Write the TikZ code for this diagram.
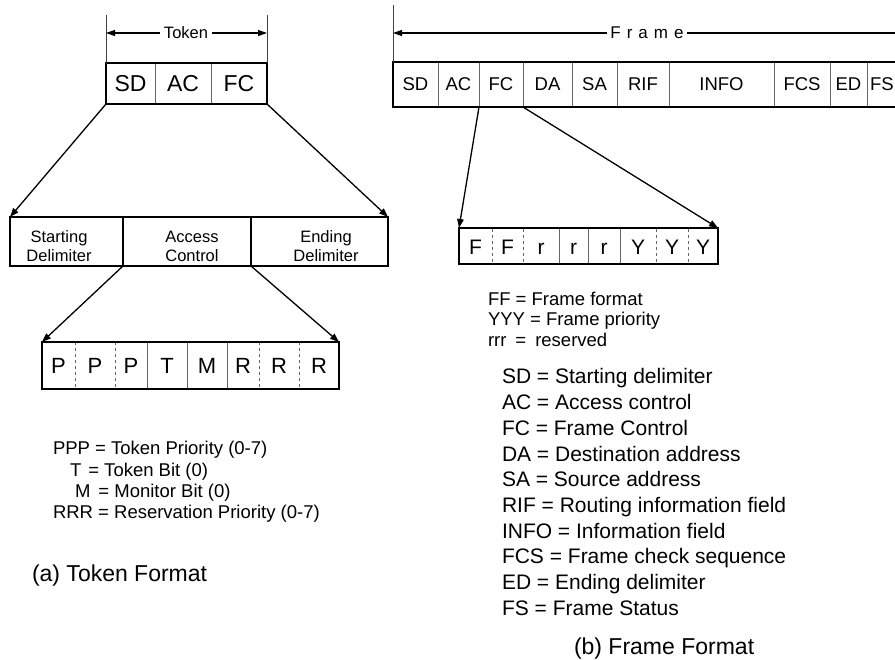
\documentclass[tikz,border=0pt]{standalone}
\usepackage{fontspec}
\setmainfont{Liberation Sans}
\usetikzlibrary{arrows.meta}
\begin{document}
\begin{tikzpicture}[x=1pt,y=-1pt,
  thickbox/.style={draw, line width=2.6pt, inner sep=0pt, outer sep=0pt, anchor=north west},
  cellbox/.style={inner sep=0pt, outer sep=0pt, anchor=north west},
  thindiv/.style={line width=0.9pt, black!60},
  dashdiv/.style={line width=0.9pt, black!60, dash pattern=on 3.5pt off 2.5pt},
  thickdiv/.style={line width=2pt, black},
  arr/.style={-{Triangle[length=9pt,width=6.5pt]}, line width=1.3pt},
  dimline/.style={line width=0.9pt, black!75},
  dimarr/.style={-{Triangle[length=9pt,width=6pt]}, line width=1.1pt},
  fs/.style={font=\fontsize{#1}{#1}\selectfont},
  legend/.style={anchor=base west, inner sep=0pt, outer sep=0pt},
  twoline/.style={font=\fontsize{16.5}{19}\selectfont, align=center, inner sep=0pt},
]
\useasboundingbox (0,0) rectangle (895,660);
\clip (0,0) rectangle (895,660);

% ---------------- Token ----------------
\node[cellbox, minimum width=49pt, minimum height=41pt, fs=23] (tSD) at (106,63) {SD};
\node[cellbox, minimum width=56pt, minimum height=41pt, fs=23] (tAC) at (155,63) {AC};
\node[cellbox, minimum width=56pt, minimum height=41pt, fs=23] (tFC) at (211,63) {FC};
\draw[thindiv] (tSD.north east) -- (tSD.south east);
\draw[thindiv] (tAC.north east) -- (tAC.south east);
\node[thickbox, minimum width=161pt, minimum height=41pt] (token) at (106,63) {};

\coordinate (tokTL) at (106,15);
\coordinate (tokTR) at (267,15);
\coordinate (tokAL) at (106,33);
\coordinate (tokAR) at (267,33);
\draw[dimline] (tokTL) -- (token.north west);
\draw[dimline] (tokTR) -- (token.north east);
\node[fs=16.5, inner xsep=4pt] (toklabel) at (186,33) {Token};
\draw[dimarr] (toklabel.west) -- (tokAL);
\draw[dimarr] (toklabel.east) -- (tokAR);

% ---------------- Starting / Access / Ending ----------------
\node[cellbox, minimum width=113pt, minimum height=49pt] (sStart) at (10,217) {};
\node[cellbox, minimum width=128pt, minimum height=49pt] (sAcc) at (123,217) {};
\node[cellbox, minimum width=137pt, minimum height=49pt] (sEnd) at (251,217) {};
\draw[thickdiv] (sStart.north east) -- (sStart.south east);
\draw[thickdiv] (sAcc.north east) -- (sAcc.south east);
\node[thickbox, minimum width=378pt, minimum height=49pt] (sad) at (10,217) {};
\node[twoline] (lStart) at (59,246) {Starting\\Delimiter};
\node[twoline] (lAcc) at (192,246) {Access\\Control};
\node[twoline] (lEnd) at (326,246) {Ending\\Delimiter};

% ---------------- PPPTMRRR ----------------
\foreach \a/\b/\t in {42/75/P, 75/115/P, 115/147/P, 147/187/T, 187/227/M, 227/259/R, 259/299/R, 299/339/R}{
  \pgfmathsetmacro\w{\b-\a}
}
\foreach \a/\b/\t [count=\i] in {42/75/P, 75/115/P, 115/147/P, 147/187/T, 187/227/M, 227/259/R, 259/299/R, 299/339/R}{
  \pgfmathsetmacro\w{\b-\a}
  \node[cellbox, minimum width=\w pt, minimum height=47pt, fs=22] (p\i) at (\a,342) {\t};
}
\foreach \i/\s in {1/dashdiv,2/dashdiv,3/thindiv,4/thindiv,5/thindiv,6/dashdiv,7/dashdiv}{
  \draw[\s] (p\i.north east) -- (p\i.south east);
}
\node[thickbox, minimum width=297pt, minimum height=47pt] (ppp) at (42,342) {};

% arrows (token side)
\draw[arr] (token.south west) -- (sad.north west);
\draw[arr] (token.south east) -- (sad.north east);
\draw[arr] (sAcc.south west) -- (ppp.north west);
\draw[arr] (sAcc.south east) -- (ppp.north east);

% legend (a)
\node[legend, fs=18.5] (la1) at (53,455) {PPP = Token Priority (0-7)};
\node[legend, fs=18.5] (la2) at (70,476) {T\hspace{7pt}= Token Bit (0)};
\node[legend, fs=18.5] (la3) at (75,497) {M\hspace{8pt}= Monitor Bit (0)};
\node[legend, fs=18.5] (la4) at (53,518) {RRR = Reservation Priority (0-7)};
\node[legend, fs=23] (capa) at (32,581) {(a) Token Format};

% ---------------- Frame ----------------
\foreach \a/\b/\t [count=\i] in {393/438/SD, 438/479/AC, 479/523/FC, 523/572/DA, 572/617/SA, 617/669/RIF, 669/774/INFO, 774/830/FCS, 830/867/ED, 867/897/FS}{
  \pgfmathsetmacro\w{\b-\a}
  \node[cellbox, minimum width=\w pt, minimum height=45pt, fs=18.5] (f\i) at (\a,62) {\t};
}
\foreach \i in {1,...,9}{
  \draw[thindiv] (f\i.north east) -- (f\i.south east);
}
\node[thickbox, minimum width=540pt, minimum height=45pt] (frame) at (393,62) {};

\coordinate (frTL) at (393,5);
\coordinate (frAL) at (393,33);
\coordinate (frAR) at (904,33);
\draw[dimline] (frTL) -- (frame.north west);
\node[fs=17, inner xsep=3pt] (frlabel) at (647,33) {F\hspace{6pt}r\hspace{6pt}a\hspace{6pt}m\hspace{6pt}e\hspace{6pt}};
\draw[dimarr] (frlabel.west) -- (frAL);
\draw[dimarr] (frlabel.east) -- (frAR);

% ---------------- FFrrrYYY ----------------
\foreach \a/\b/\t [count=\i] in {459/492/F, 492/523/F, 523/559/r, 559/588/r, 588/620/r, 620/656/Y, 656/688/Y, 688/718/Y}{
  \pgfmathsetmacro\w{\b-\a}
  \node[cellbox, minimum width=\w pt, minimum height=36pt, fs=21, text height=15pt, text depth=0pt, yshift=-1pt] (q\i) at (\a,228) {\t};
}
\foreach \i/\s in {1/dashdiv,2/dashdiv,3/thindiv,4/thindiv,5/thindiv,6/dashdiv,7/dashdiv}{
  \draw[\s] (q\i.north east) -- (q\i.south east);
}
\node[thickbox, minimum width=259pt, minimum height=36pt] (ffb) at (459,228) {};

\draw[arr] (f3.south west) -- (ffb.north west);
\draw[arr] (f3.south east) -- (ffb.north east);

% legend (b)
\node[legend, fs=18.5] (lb1) at (488,306) {FF = Frame format};
\node[legend, fs=18.5] (lb2) at (488,326) {YYY = Frame priority};
\node[legend, fs=18.5] (lb3) at (488,347) {rrr\hspace{9pt}=\hspace{9pt}reserved};

\foreach \t [count=\i] in {SD = Starting delimiter, AC = Access control, FC = Frame Control, DA = Destination address, SA = Source address, RIF = Routing information field, INFO = Information field, FCS = Frame check sequence, ED = Ending delimiter, FS = Frame Status}{
  \node[legend, fs=21] (lc\i) at (502,{384+(\i-1)*25.7}) {\t};
}
\node[legend, fs=23] (capb) at (574,654) {(b) Frame Format};
\end{tikzpicture}
\end{document}
